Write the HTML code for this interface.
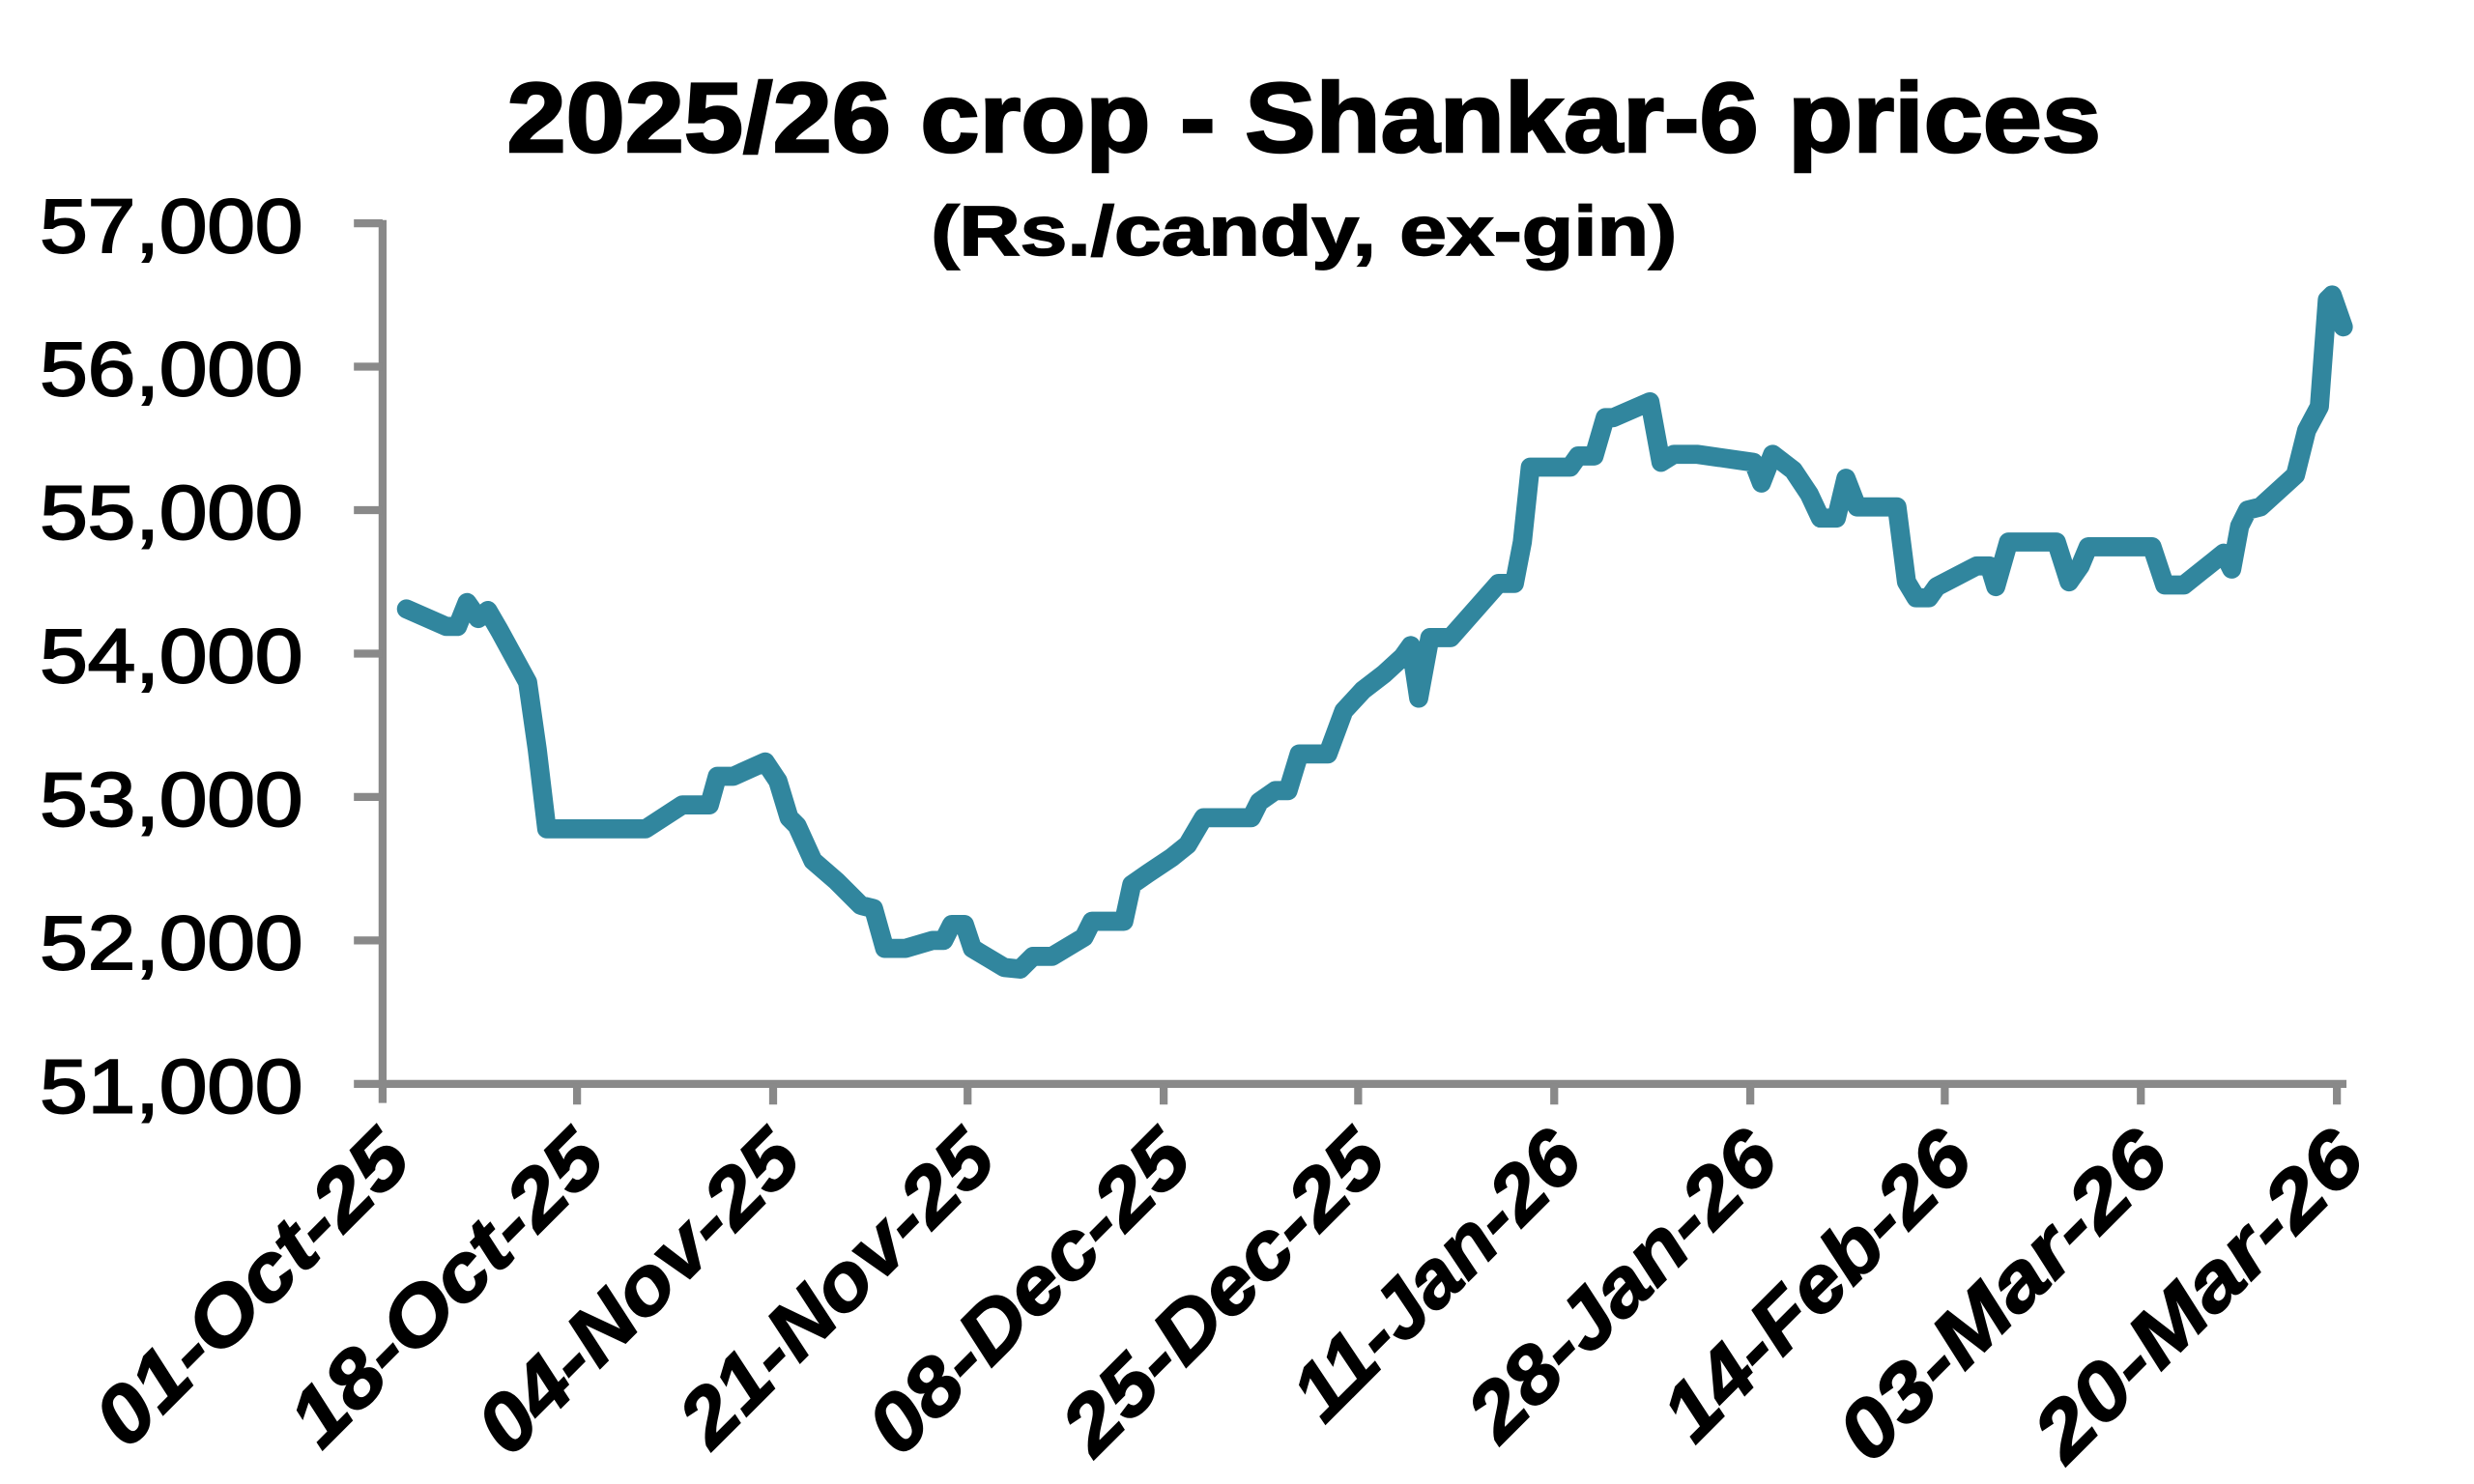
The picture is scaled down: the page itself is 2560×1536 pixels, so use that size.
<!DOCTYPE html>
<html><head><meta charset="utf-8"><style>html,body{margin:0;padding:0;background:#fff}svg{display:block}</style></head>
<body>
<svg width="2560" height="1536" viewBox="0 0 1552 931" xmlns="http://www.w3.org/2000/svg">
<rect width="1552" height="931" fill="#fff"/>
<text x="818" y="95" text-anchor="middle" font-family="Liberation Sans, sans-serif" font-weight="bold" font-size="62" stroke="#000" stroke-width="1.5" textLength="1000" lengthAdjust="spacingAndGlyphs">2025/26 crop - Shankar-6 prices</text>
<text x="818" y="160" text-anchor="middle" font-family="Liberation Sans, sans-serif" font-weight="bold" font-size="44" stroke="#000" stroke-width="1" textLength="468" lengthAdjust="spacingAndGlyphs">(Rs./candy, ex-gin)</text>
<g stroke="#898989" stroke-width="5" fill="none">
<line x1="240" y1="138" x2="240" y2="692"/>
<line x1="222" y1="680" x2="1472" y2="680"/>
<line x1="222" y1="140" x2="240" y2="140"/>
<line x1="222" y1="230" x2="240" y2="230"/>
<line x1="222" y1="320" x2="240" y2="320"/>
<line x1="222" y1="410" x2="240" y2="410"/>
<line x1="222" y1="500" x2="240" y2="500"/>
<line x1="222" y1="590" x2="240" y2="590"/>
<line x1="362" y1="680" x2="362" y2="693"/>
<line x1="485" y1="680" x2="485" y2="693"/>
<line x1="607" y1="680" x2="607" y2="693"/>
<line x1="730" y1="680" x2="730" y2="693"/>
<line x1="852" y1="680" x2="852" y2="693"/>
<line x1="975" y1="680" x2="975" y2="693"/>
<line x1="1098" y1="680" x2="1098" y2="693"/>
<line x1="1220" y1="680" x2="1220" y2="693"/>
<line x1="1343" y1="680" x2="1343" y2="693"/>
<line x1="1466" y1="680" x2="1466" y2="693"/>
</g>
<g font-family="Liberation Sans, sans-serif" font-size="48" text-anchor="end" fill="#000" stroke="#000" stroke-width="1.2">
<text x="190" y="158" textLength="165" lengthAdjust="spacingAndGlyphs">57,000</text>
<text x="190" y="248" textLength="165" lengthAdjust="spacingAndGlyphs">56,000</text>
<text x="190" y="338" textLength="165" lengthAdjust="spacingAndGlyphs">55,000</text>
<text x="190" y="428" textLength="165" lengthAdjust="spacingAndGlyphs">54,000</text>
<text x="190" y="518" textLength="165" lengthAdjust="spacingAndGlyphs">53,000</text>
<text x="190" y="608" textLength="165" lengthAdjust="spacingAndGlyphs">52,000</text>
<text x="190" y="698" textLength="165" lengthAdjust="spacingAndGlyphs">51,000</text>
</g>
<g font-family="Liberation Sans, sans-serif" font-size="50" font-weight="bold" font-style="italic" text-anchor="end" fill="#000" stroke="#000" stroke-width="1">
<text transform="translate(260,730) rotate(-45)" textLength="255" lengthAdjust="spacingAndGlyphs">01-Oct-25</text>
<text transform="translate(382,730) rotate(-45)" textLength="255" lengthAdjust="spacingAndGlyphs">18-Oct-25</text>
<text transform="translate(505,730) rotate(-45)" textLength="262" lengthAdjust="spacingAndGlyphs">04-Nov-25</text>
<text transform="translate(627,730) rotate(-45)" textLength="255" lengthAdjust="spacingAndGlyphs">21-Nov-25</text>
<text transform="translate(750,730) rotate(-45)" textLength="262" lengthAdjust="spacingAndGlyphs">08-Dec-25</text>
<text transform="translate(872,730) rotate(-45)" textLength="262" lengthAdjust="spacingAndGlyphs">25-Dec-25</text>
<text transform="translate(995,730) rotate(-45)" textLength="232" lengthAdjust="spacingAndGlyphs">11-Jan-26</text>
<text transform="translate(1118,730) rotate(-45)" textLength="250" lengthAdjust="spacingAndGlyphs">28-Jan-26</text>
<text transform="translate(1240,730) rotate(-45)" textLength="250" lengthAdjust="spacingAndGlyphs">14-Feb-26</text>
<text transform="translate(1363,730) rotate(-45)" textLength="268" lengthAdjust="spacingAndGlyphs">03-Mar-26</text>
<text transform="translate(1486,730) rotate(-45)" textLength="268" lengthAdjust="spacingAndGlyphs">20-Mar-26</text>
</g>
<polyline fill="none" stroke="#31869e" stroke-width="12" stroke-linejoin="round" stroke-linecap="round" points="255,382 280,393 287,393 293,378 300,388 306,383 313,395 331,428 337,470 343,520 405,520 428,505 445,505 450,487 460,487 480,478 488,490 495,513 500,518 510,540 525,553 530,558 540,568 548,570 555,595 568,595 585,590 592,590 597,580 605,580 610,595 630,607 640,608 648,600 660,600 680,588 685,578 705,578 710,555 720,548 735,538 745,530 755,513 785,513 790,503 800,496 808,496 815,473 833,473 843,446 855,433 868,423 880,412 885,405 890,438 897,400 910,400 940,366 950,366 955,340 960,293 985,293 990,286 1000,286 1007,262 1012,262 1035,252 1042,290 1050,285 1065,285 1100,290 1105,303 1112,285 1125,295 1135,310 1142,325 1152,325 1158,300 1165,318 1172,318 1190,318 1196,365 1202,375 1210,375 1215,368 1240,355 1248,355 1252,368 1260,340 1290,340 1298,365 1305,355 1310,343 1350,343 1358,367 1370,367 1385,355 1395,347 1400,357 1405,330 1410,320 1418,318 1440,298 1447,270 1455,255 1460,188 1463,185 1470,205"/>
</svg>
</body></html>
